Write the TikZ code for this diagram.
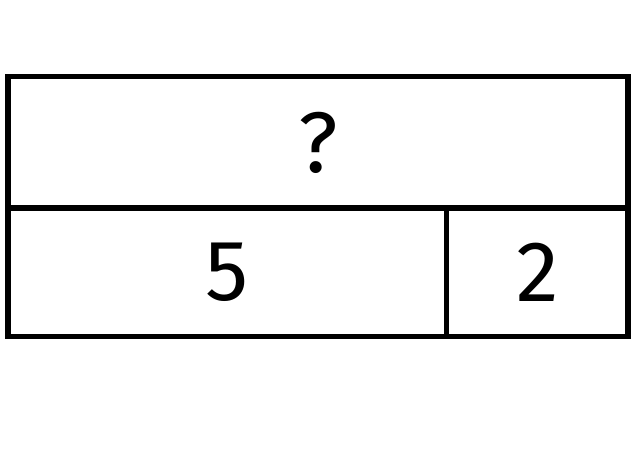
\documentclass[tikz,border=0pt]{standalone}
\usepackage{fontspec}
\setmainfont{Fira Sans}
\begin{document}
\begin{tikzpicture}[x=1pt,y=1pt,
  box/.style={draw=black,line width=5.3pt},
  lbl/.style={font=\fontsize{86}{90}\selectfont,inner sep=0pt}]
\useasboundingbox (0,0) rectangle (640,469);
\coordinate (tl) at (8,392.5);
\coordinate (br) at (628,132.5);
\coordinate (ml) at (8,261);
\coordinate (mr) at (628,261);
\coordinate (dt) at (446.7,261);
\coordinate (db) at (446.7,132.5);
\draw[box] (tl) rectangle (br);
\draw[box] (ml) -- (mr);
\draw[box] (dt) -- (db);
\node[lbl] (q) at (318,326) {?};
\node[lbl] (five) at (227.5,197) {5};
\node[lbl] (two) at (537.5,197) {2};
\end{tikzpicture}
\end{document}
